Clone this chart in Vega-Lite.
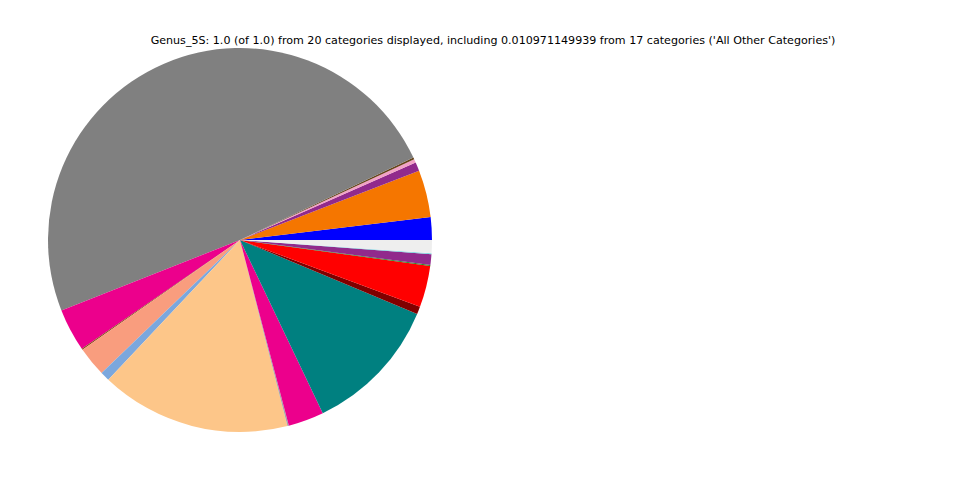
{
  "$schema": "https://vega.github.io/schema/vega-lite/v6.json",
  "width": 480,
  "height": 480,
  "autosize": "none",
  "padding": {"left": 0, "top": 0, "right": 480, "bottom": 0},
  "background": "white",
  "title": {
    "text": "Genus_5S: 1.0 (of 1.0) from 20 categories displayed, including 0.010971149939 from 17 categories ('All Other Categories')",
    "anchor": "middle",
    "frame": "group",
    "orient": "top",
    "offset": -55,
    "dx": 253,
    "baseline": "alphabetic",
    "font": "DejaVu Sans",
    "fontSize": 11.1,
    "fontWeight": "normal",
    "color": "black"
  },
  "data": {
    "values": [
      {"idx": 1, "genus": "Genus 01", "share": 0.0191, "color": "#0000ff"},
      {"idx": 2, "genus": "Genus 02", "share": 0.0396, "color": "#f57600"},
      {"idx": 3, "genus": "Genus 03", "share": 0.0074, "color": "#912a8c"},
      {"idx": 4, "genus": "Genus 04", "share": 0.003, "color": "#f2a2c6"},
      {"idx": 5, "genus": "Genus 05", "share": 0.0015, "color": "#654318"},
      {"idx": 6, "genus": "Genus 06", "share": 0.489, "color": "#808080"},
      {"idx": 7, "genus": "Genus 07", "share": 0.036, "color": "#ec008c"},
      {"idx": 8, "genus": "Genus 08", "share": 0.001, "color": "#8b4a1a"},
      {"idx": 9, "genus": "Genus 09", "share": 0.025, "color": "#f99d7e"},
      {"idx": 10, "genus": "Genus 10", "share": 0.0078, "color": "#7ba7dd"},
      {"idx": 11, "genus": "Genus 11", "share": 0.16, "color": "#fdc689"},
      {"idx": 12, "genus": "Genus 12", "share": 0.0012, "color": "#a6a6a6"},
      {"idx": 13, "genus": "Genus 13", "share": 0.030, "color": "#ec008c"},
      {"idx": 14, "genus": "Genus 14", "share": 0.116, "color": "#008080"},
      {"idx": 15, "genus": "Genus 15", "share": 0.0064, "color": "#800000"},
      {"idx": 16, "genus": "Genus 16", "share": 0.035, "color": "#ff0000"},
      {"idx": 17, "genus": "Genus 17", "share": 0.0008, "color": "#1b8a1b"},
      {"idx": 18, "genus": "Genus 18", "share": 0.009, "color": "#912a8c"},
      {"idx": 19, "genus": "Genus 19", "share": 0.0008, "color": "#7fd6e0"},
      {"idx": 20, "genus": "All Other Categories", "share": 0.010971149939, "color": "#eeeeee"}
    ]
  },
  "mark": {"type": "arc", "outerRadius": 192, "strokeWidth": 0},
  "encoding": {
    "theta": {
      "field": "share",
      "type": "quantitative",
      "stack": true,
      "scale": {"range": [1.5707963, -4.7123890]}
    },
    "order": {"field": "idx", "type": "quantitative"},
    "color": {"field": "color", "type": "nominal", "scale": null, "legend": null}
  },
  "config": {"view": {"stroke": null}}
}
